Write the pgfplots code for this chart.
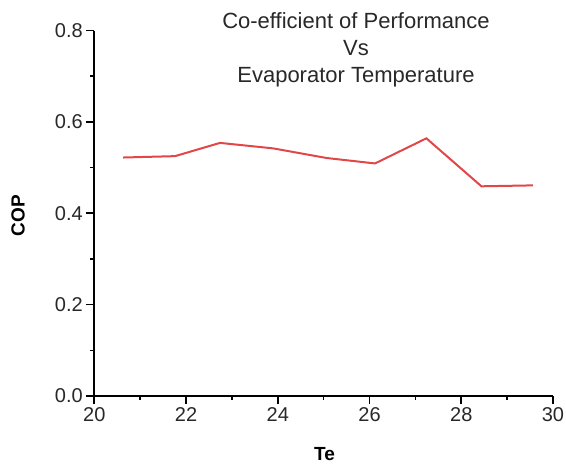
\documentclass[border=0pt]{standalone}
\usepackage{pgfplots}
\pgfplotsset{compat=1.18}
\usepackage{fontspec}
\setmainfont{Liberation Sans}
\definecolor{copred}{RGB}{225,70,72}
\definecolor{txt}{RGB}{40,40,40}
\begin{document}
\begin{tikzpicture}
\useasboundingbox (-94.3pt,-68pt) rectangle (471.7pt,396pt);
\begin{axis}[
  at={(0pt,0pt)}, anchor=south west,
  scale only axis,
  width=458.7pt, height=365.5pt,
  xmin=20, xmax=30, ymin=0, ymax=0.8,
  axis x line*=bottom, axis y line*=left,
  axis line style={line width=1.8pt, black},
  xtick={20,22,...,30},
  ytick={0,0.2,...,0.8},
  minor x tick num=1, minor y tick num=1,
  tick align=outside,
  major tick length=8pt, minor tick length=4pt,
  tick style={line width=1.6pt, black},
  yticklabel style={/pgf/number format/.cd, fixed, fixed zerofill, precision=1},
  /pgf/number format/assume math mode=true,
  tick label style={font=\fontsize{20}{24}\selectfont, text=txt},
  xlabel={\textbf{Te}}, ylabel={\textbf{COP}},
  xlabel style={font=\fontsize{19}{23}\selectfont, at={(axis description cs:0.502,-0.159)}, anchor=center},
  ylabel style={font=\fontsize{19}{23}\selectfont, at={(axis description cs:-0.166,0.493)}, anchor=center},
  clip=false,
]
\addplot[copred, line width=2pt] coordinates {
  (20.63,0.522) (21.76,0.525) (22.74,0.554) (23.90,0.542) (25.06,0.521)
  (26.12,0.509) (27.24,0.564) (28.44,0.459) (29.56,0.461)
};
\draw[line width=1.8pt, black] (rel axis cs:0,1) -- (rel axis cs:0,0) -- (rel axis cs:1,0);
\node[anchor=north, align=center, inner sep=0pt, text=txt, font=\fontsize{22}{27}\selectfont]
  at (rel axis cs:0.5705,1.0487) {Co-efficient of Performance\\Vs\\Evaporator Temperature};
\end{axis}
\end{tikzpicture}
\end{document}
